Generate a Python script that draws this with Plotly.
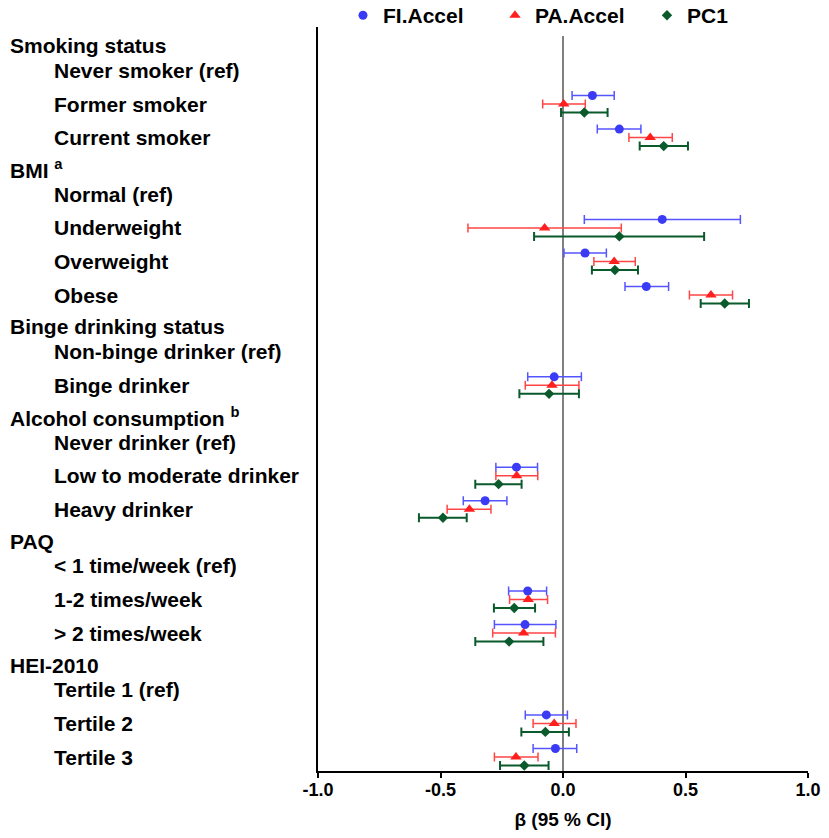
import plotly.graph_objects as go

# row labels, top to bottom
rows = [
    "Smoking status", "Never smoker (ref)", "Former smoker", "Current smoker",
    "BMI <sup>a</sup>", "Normal (ref)", "Underweight", "Overweight", "Obese",
    "Binge drinking status", "Non-binge drinker (ref)", "Binge drinker",
    "Alcohol consumption <sup>b</sup>", "Never drinker (ref)",
    "Low to moderate drinker", "Heavy drinker",
    "PAQ", "< 1 time/week (ref)", "1-2 times/week", "> 2 times/week",
    "HEI-2010", "Tertile 1 (ref)", "Tertile 2", "Tertile 3",
]
headers = ["Smoking status", "BMI <sup>a</sup>", "Binge drinking status",
           "Alcohol consumption <sup>b</sup>", "PAQ", "HEI-2010"]

# rows that have estimates
est_rows = [
    "Former smoker", "Current smoker", "Underweight", "Overweight", "Obese",
    "Binge drinker", "Low to moderate drinker", "Heavy drinker",
    "1-2 times/week", "> 2 times/week", "Tertile 2", "Tertile 3",
]

fi_est = [0.120, 0.230, 0.405, 0.090, 0.340, -0.036, -0.190, -0.318, -0.144, -0.155, -0.068, -0.031]
fi_lo = [0.037, 0.140, 0.087, 0.004, 0.253, -0.144, -0.274, -0.407, -0.222, -0.280, -0.154, -0.122]
fi_hi = [0.209, 0.318, 0.724, 0.177, 0.431, 0.075, -0.104, -0.229, -0.067, -0.029, 0.018, 0.056]

pa_est = [0.003, 0.356, -0.075, 0.209, 0.604, -0.045, -0.189, -0.382, -0.142, -0.161, -0.036, -0.192]
pa_lo = [-0.083, 0.269, -0.388, 0.126, 0.516, -0.154, -0.274, -0.473, -0.218, -0.287, -0.122, -0.280]
pa_hi = [0.091, 0.446, 0.238, 0.295, 0.692, 0.065, -0.103, -0.294, -0.063, -0.031, 0.053, -0.102]

pc_est = [0.087, 0.411, 0.230, 0.212, 0.660, -0.057, -0.263, -0.490, -0.199, -0.220, -0.072, -0.158]
pc_lo = [-0.008, 0.313, -0.118, 0.118, 0.562, -0.178, -0.358, -0.588, -0.282, -0.358, -0.170, -0.257]
pc_hi = [0.182, 0.510, 0.576, 0.306, 0.759, 0.065, -0.169, -0.393, -0.114, -0.080, 0.024, -0.059]

FONT = "Liberation Sans, Arial, sans-serif"

# vertical layout: item rows one unit apart, group headers squeezed in
pos = []
y = 0.0
for k, r in enumerate(rows):
    if k > 0:
        if r in headers:
            y += 0.95
        elif rows[k - 1] in headers:
            y += 0.74
        else:
            y += 1.0
    pos.append(y)
row_pos = [pos[rows.index(r)] for r in est_rows]

series = [
    ("FI.Accel", fi_est, fi_lo, fi_hi, -0.253, "#3b3bf5", "#5555ff", "circle", 9, 1.5),
    ("PA.Accel", pa_est, pa_lo, pa_hi, 0.0, "#ff1f1f", "#ff4646", "triangle-up", 10, 1.5),
    ("PC1", pc_est, pc_lo, pc_hi, 0.253, "#0a5a2c", "#0a5a2c", "diamond", 8, 2),
]

fig = go.Figure()
for name, est, lo, hi, off, mcol, ecol, sym, size, thick in series:
    fig.add_trace(go.Scatter(
        x=est,
        y=[p + off for p in row_pos],
        name=name,
        mode="markers",
        marker=dict(symbol=sym, size=size, color=mcol),
        error_x=dict(
            type="data", symmetric=False,
            array=[h - e for e, h in zip(est, hi)],
            arrayminus=[e - l for e, l in zip(est, lo)],
            color=ecol, thickness=thick, width=4.5,
        ),
    ))

# row labels as left-aligned text
for r, p in zip(rows, pos):
    is_head = r in headers
    fig.add_annotation(
        xref="paper", yref="y",
        x=-310 / 490 if is_head else (44 - 310) / 490,
        y=p, text=r, showarrow=False,
        xanchor="left", yanchor="middle",
        font=dict(family=FONT, size=21, color="black", weight="bold"),
    )

fig.update_layout(
    width=813, height=822,
    margin=dict(l=310, r=13, t=19, b=59, autoexpand=False),
    plot_bgcolor="white", paper_bgcolor="white",
    font=dict(family=FONT, color="black"),
    showlegend=True,
    legend=dict(
        orientation="h", x=0.051, y=1.0153, xanchor="left", yanchor="middle",
        font=dict(family=FONT, size=21, weight="bold"),
        entrywidth=107,
    ),
    xaxis=dict(
        range=[-1.0, 1.0], tickvals=[-1.0, -0.5, 0.0, 0.5, 1.0],
        ticktext=["-1.0", "-0.5", "0.0", "0.5", "1.0"],
        showgrid=False, showline=True, linecolor="black", linewidth=2,
        ticks="outside", ticklen=5, tickwidth=2, tickcolor="black",
        tickfont=dict(family=FONT, size=18, weight="bold"),
        ticklabelstandoff=-4,
        zeroline=True, zerolinecolor="#808080", zerolinewidth=1.5,
        title=dict(text="β (95 % CI)", font=dict(family=FONT, size=19, weight="bold"),
                   standoff=14),
    ),
    yaxis=dict(
        range=[pos[-1] + 0.417, pos[0] - 0.554], showgrid=False, zeroline=False,
        showline=True, linecolor="black", linewidth=2,
        showticklabels=False, ticks="",
    ),
)

fig.write_html("out.html")
